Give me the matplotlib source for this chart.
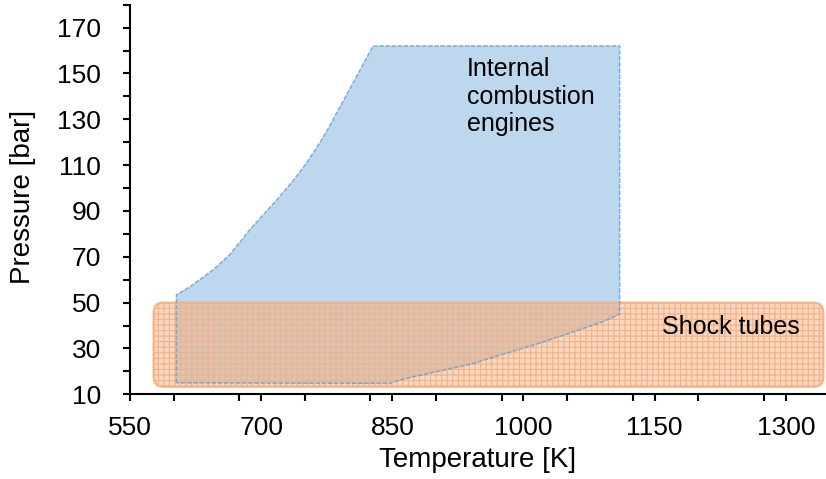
import matplotlib.pyplot as plt
from matplotlib.patches import FancyBboxPatch, Polygon
from matplotlib.ticker import MultipleLocator

plt.rcParams["font.family"] = ["Liberation Sans", "DejaVu Sans"]
plt.rcParams["hatch.linewidth"] = 0.8

# engine region outline (temperature K, pressure bar)
engine_T = [603, 603, 619, 645, 664, 687, 699, 718, 737, 752, 767, 775, 828,
            1110, 1110, 1091, 1053, 1015, 977, 939, 901, 862, 847]
engine_P = [15, 53.4, 57, 64.3, 70.9, 81.8, 86.9, 94.9, 103.4, 111, 119.7, 124.8, 162,
            162, 45, 41.7, 36.7, 31.9, 27.5, 23.1, 19.9, 16.6, 14.8]

# shock tube box: T range and P range
shock_T = [577, 1343]
shock_P = [13.3, 50]

x_ticks = [550, 700, 850, 1000, 1150, 1300]
y_ticks = [10, 30, 50, 70, 90, 110, 130, 150, 170]

fig = plt.figure(figsize=(8.26, 4.79), dpi=100)
ax = fig.add_axes([0.1574, 0.1768, 0.8426, 0.8134])

blue_fill = "#BDD7EE"
blue_edge = "#5B9BD5"
orange_edge = "#F4B183"

pts = list(zip(engine_T, engine_P))
ax.add_patch(Polygon(pts, closed=True, facecolor=blue_fill, edgecolor="none", zorder=1))

w = shock_T[1] - shock_T[0]
h = shock_P[1] - shock_P[0]
box_kw = dict(boxstyle="round,pad=0,rounding_size=11", mutation_aspect=0.4)
ax.add_patch(FancyBboxPatch((shock_T[0], shock_P[0]), w, h, facecolor=orange_edge,
                            alpha=0.5, edgecolor="none", zorder=2, **box_kw))
ax.add_patch(FancyBboxPatch((shock_T[0], shock_P[0]), w, h, facecolor="none",
                            edgecolor=orange_edge, hatch="+++", linewidth=0, zorder=3, **box_kw))
ax.add_patch(FancyBboxPatch((shock_T[0], shock_P[0]), w, h, facecolor="none",
                            edgecolor=orange_edge, linewidth=1.5, zorder=4, **box_kw))

ax.add_patch(Polygon(pts, closed=True, facecolor="none", edgecolor=blue_edge,
                     linewidth=1.1, linestyle=(0, (3, 1)), alpha=0.75, zorder=5))

ax.text(935, 157.3, "Internal\ncombustion\nengines", fontsize=18, va="top", ha="left",
        linespacing=1.2, zorder=6)
ax.text(1159, 36.4, "Shock tubes", fontsize=18, va="baseline", ha="left", zorder=6)

ax.set_xlim(550, 1346)
ax.set_ylim(10, 180)
ax.set_xticks(x_ticks)
ax.set_yticks(y_ticks)
ax.xaxis.set_minor_locator(MultipleLocator(75))
ax.yaxis.set_minor_locator(MultipleLocator(10))
ax.tick_params(which="both", direction="out", length=5, width=1.5, labelsize=19)
ax.tick_params(axis="x", pad=10.5)
ax.tick_params(axis="y", pad=16)
ax.spines["top"].set_visible(False)
ax.spines["right"].set_visible(False)
ax.spines["left"].set_linewidth(1.5)
ax.spines["bottom"].set_linewidth(1.5)
ax.set_xlabel("Temperature [K]", fontsize=20)
ax.set_ylabel("Pressure [bar]", fontsize=20)
ax.xaxis.set_label_coords(0.5, -0.134)
ax.yaxis.set_label_coords(-0.135, 0.506)

fig.savefig("out.png", dpi=100)
